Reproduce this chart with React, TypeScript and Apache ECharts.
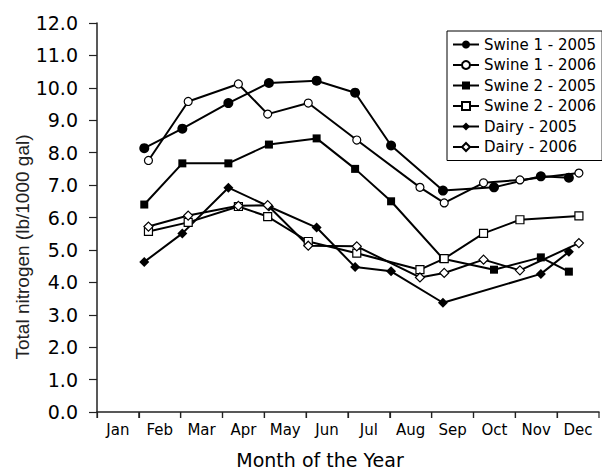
import React, { useEffect, useRef } from "react";
import * as echarts from "echarts";

const months = ["Jan", "Feb", "Mar", "Apr", "May", "Jun", "Jul", "Aug", "Sep", "Oct", "Nov", "Dec"];
const yTicks = [0, 12];
const xTickValues = [0, 1, 2, 3, 4, 5, 6, 7, 8, 9, 10, 11, 12];

// sampling dates, in months since 1 January
const dates2005 = [1.13, 2.04, 3.14, 4.11, 5.25, 6.17, 7.03, 8.27, 9.49, 10.61, 11.28];
const dates2006 = [1.23, 2.18, 3.38, 4.08, 5.05, 6.21, 7.72, 8.3, 9.24, 10.11, 11.52];

const swine1_2005 = [8.14, 8.74, 9.53, 10.15, 10.22, 9.85, 8.22, 6.83, 6.93, 7.27, 7.23];
const swine1_2006 = [7.76, 9.58, 10.12, 9.19, 9.53, 8.39, 6.93, 6.45, 7.07, 7.16, 7.37];
const swine2_2005 = [6.4, 7.67, 7.67, 8.25, 8.44, 7.5, 6.5, 4.73, 4.39, 4.77, 4.33];
const swine2_2006 = [5.57, 5.85, 6.34, 6.03, 5.26, 4.9, 4.39, 4.73, 5.51, 5.93, 6.05];
const dairy2005 = [4.63, 5.51, 6.92, 6.34, 5.69, 4.47, 4.34, 3.37, null, 4.26, 4.94];
const dairy2006 = [5.72, 6.06, 6.36, 6.38, 5.13, 5.11, 4.15, 4.29, 4.7, 4.37, 5.21];

const FONT = "DejaVu Sans";

function pts(dates: number[], vals: (number | null)[]) {
  return dates.map((d, i) => [d, vals[i]]).filter((p) => p[1] != null);
}

function mk(name: string, dates: number[], vals: (number | null)[], symbol: string, filled: boolean, size: number) {
  return {
    name,
    type: "line",
    data: pts(dates, vals),
    symbol,
    symbolSize: size,
    showSymbol: true,
    lineStyle: { color: "#000", width: 2 },
    itemStyle: filled
      ? { color: "#000", borderColor: "#000", borderWidth: 0 }
      : { color: "#fff", borderColor: "#000", borderWidth: 1.2 },
    emphasis: { disabled: true },
  };
}

export default function App() {
  const ref = useRef<HTMLDivElement>(null);
  useEffect(() => {
    document.body.style.margin = "0";
    const chart = echarts.init(ref.current!, null, { renderer: "svg" });
    chart.setOption({
      animation: false,
      backgroundColor: "#fff",
      grid: { left: 97, right: 3, top: 23, bottom: 58 },
      xAxis: {
        type: "value",
        min: 0,
        max: 12,
        interval: 1,
        axisLine: { show: true, onZero: false, lineStyle: { color: "#222", width: 1.5 } },
        axisTick: { show: true, inside: false, length: 6, lineStyle: { color: "#222", width: 1.2 } },
        axisLabel: {
          show: true,
          color: "#000",
          fontSize: 15,
          fontFamily: FONT,
          margin: 10,
          align: "center",
          padding: [0, 0, 0, 41.8],
          showMaxLabel: false,
          formatter: (v: number) => months[Math.round(v)] ?? "",
        },
        splitLine: { show: false },
      },
      yAxis: {
        type: "value",
        min: yTicks[0],
        max: yTicks[1],
        interval: 1,
        axisLine: { show: true, lineStyle: { color: "#222", width: 1.5 } },
        axisTick: { show: true, length: 8, lineStyle: { color: "#222", width: 1.2 } },
        axisLabel: {
          color: "#000",
          fontSize: 19,
          fontFamily: FONT,
          margin: 19,
          formatter: (v: number) => v.toFixed(1),
        },
        splitLine: { show: false },
      },
      legend: {
        orient: "vertical",
        left: 447,
        top: 31,
        width: 150,
        padding: [6, 6, 6, 5],
        itemWidth: 26,
        itemHeight: 10,
        itemGap: 5.5,
        borderColor: "#000",
        borderWidth: 1,
        backgroundColor: "#fff",
        textStyle: { color: "#000", fontSize: 15, fontFamily: FONT },
        data: ["Swine 1 - 2005", "Swine 1 - 2006", "Swine 2 - 2005", "Swine 2 - 2006", "Dairy - 2005", "Dairy - 2006"],
      },
      graphic: [
        {
          type: "text",
          x: 22,
          y: 247,
          rotation: Math.PI / 2,
          style: {
            text: "Total nitrogen (lb/1000 gal)",
            fontSize: 19,
            fontFamily: "Liberation Sans",
            fill: "#222",
            textAlign: "center",
            textVerticalAlign: "middle",
          },
        },
        {
          type: "text",
          x: 320,
          y: 460,
          style: {
            text: "Month of the Year",
            fontSize: 19,
            fontFamily: FONT,
            fill: "#000",
            textAlign: "center",
            textVerticalAlign: "middle",
          },
        },
      ],
      series: [
        {
          type: "custom",
          name: "xticks",
          silent: true,
          clip: false,
          data: xTickValues.map((v) => [v, 0]),
          renderItem: (params: any, api: any) => {
            const p = api.coord([api.value(0), api.value(1)]);
            return {
              type: "line",
              shape: { x1: p[0], y1: p[1], x2: p[0], y2: p[1] + 6 },
              style: { stroke: "#222", lineWidth: 1.2 },
            };
          },
        },
        mk("Swine 1 - 2005", dates2005, swine1_2005, "circle", true, 10),
        mk("Swine 1 - 2006", dates2006, swine1_2006, "circle", false, 8),
        mk("Swine 2 - 2005", dates2005, swine2_2005, "rect", true, 8),
        mk("Swine 2 - 2006", dates2006, swine2_2006, "rect", false, 8),
        { ...mk("Dairy - 2005", dates2005, dairy2005, "diamond", true, 10), connectNulls: true },
        mk("Dairy - 2006", dates2006, dairy2006, "diamond", false, 9),
      ],
    });
    return () => chart.dispose();
  }, []);
  return <div ref={ref} style={{ width: 602, height: 470 }} />;
}
